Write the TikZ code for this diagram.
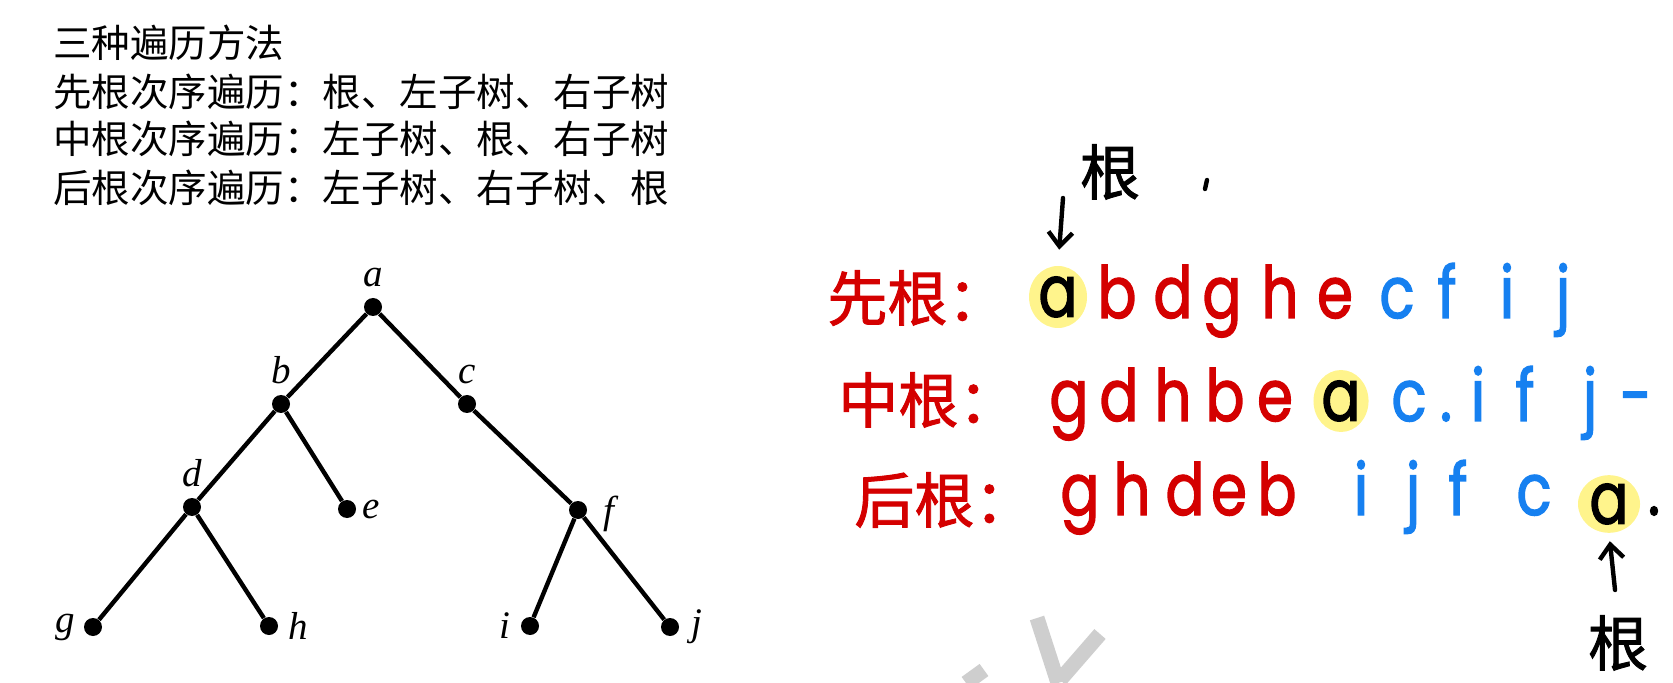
\documentclass[tikz,border=0pt]{standalone}
\usepackage{fontspec}
\setmainfont{Liberation Serif}
\newfontfamily\cjk{Noto Sans CJK SC}
\newfontfamily\cjkhand[FakeBold=1.5]{Noto Sans CJK SC}
\newfontfamily\handfont[FakeStretch=0.8, FakeBold=1.8]{Poppins}
\usepackage{xcolor}
\usetikzlibrary{arrows.meta,positioning,shapes.geometric}

\definecolor{inkred}{RGB}{212,0,0}
\definecolor{inkblue}{RGB}{22,128,240}
\definecolor{hiyellow}{RGB}{255,244,140}
\definecolor{wmgray}{RGB}{206,206,206}

\begin{document}
\begin{tikzpicture}[
    x=0.5pt, y=-0.5pt,
    every node/.style={inner sep=0pt},
    vertex/.style={circle, fill, minimum size=9pt},
    edge/.style={line width=2.2pt},
    lbl/.style={font=\fontsize{19.5}{22}\selectfont\itshape},
    heading/.style={anchor=west, font=\cjk\fontsize{19.25}{23}\selectfont},
    hand/.style={anchor=base, font=\handfont\fontsize{36}{40}\selectfont},
    handcjk/.style={anchor=west, font=\cjkhand\fontsize{30}{34}\selectfont},
    hilite/.style={ellipse, fill=hiyellow, font=\handfont\fontsize{36}{40}\selectfont},
    pointer/.style={line width=2.2pt, line cap=round, -{Straight Barb[length=7pt,width=12pt]}},
    tickmark/.style={line width=2.2pt, line cap=round},
    watermark/.style={line width=7.5pt, draw=wmgray}
]
\useasboundingbox (0,0) rectangle (1673,683);

% watermark fragment
\draw[watermark] (1037,618) -- (1058,683);
\draw[watermark] (1060,680) -- (1100,634);
\draw[watermark] (966,683) -- (984,670);

% Left: the three orders
\node[heading] (title) at (53,43) {三种遍历方法};
\node[heading] (pre) at (53,92) {先根次序遍历：根、左子树、右子树};
\node[heading] (in) at (53,139) {中根次序遍历：左子树、根、右子树};
\node[heading] (post) at (53,188) {后根次序遍历：左子树、右子树、根};

% Left: the tree
\node[vertex, label={[lbl, label distance=5pt]above:a}] (a) at (373,307) {};
\node[vertex, label={[lbl, label distance=5pt]above:b}] (b) at (281,404) {};
\node[vertex, label={[lbl, label distance=5pt]above:c}] (c) at (467,404) {};
\node[vertex, label={[lbl, label distance=5pt]above:d}] (d) at (192,507) {};
\node[vertex, label={[lbl, label distance=3pt]right:e}] (e) at (347,509) {};
\node[vertex, label={[lbl, label distance=8pt, yshift=-2pt]right:f}] (f) at (578,510) {};
\node[vertex, label={[lbl, label distance=4pt]left:g}] (g) at (93,627) {};
\node[vertex, label={[lbl, label distance=5pt]right:h}] (h) at (269,626) {};
\node[vertex, label={[lbl, label distance=5pt]left:i}] (i) at (530,626) {};
\node[vertex, label={[lbl, label distance=6pt]right:j}] (j) at (670,627) {};

\draw[edge] (a) -- (b);
\draw[edge] (a) -- (c);
\draw[edge] (b) -- (d);
\draw[edge] (b) -- (e);
\draw[edge] (c) -- (f);
\draw[edge] (d) -- (g);
\draw[edge] (d) -- (h);
\draw[edge] (f) -- (i);
\draw[edge] (f) -- (j);

% Right: preorder  a b d g h e c f i j
\node[handcjk, inkred] (preTag) at (827,298) {先根：};
\node[hilite, minimum width=29pt, minimum height=31pt] (preRoot) at (1058,297) {a};
\node[hand, inkred] (preB) at (1117,318) {b};
\node[hand, inkred] (preD) at (1173,318) {d};
\node[hand, inkred] (preG) at (1222,318) {g};
\node[hand, inkred] (preH) at (1280,318) {h};
\node[hand, inkred] (preE) at (1335,318) {e};
\node[hand, inkblue] (preC) at (1397,318) {c};
\node[hand, inkblue] (preF) at (1447,318) {f};
\node[hand, inkblue] (preI) at (1507,318) {i};
\node[hand, inkblue] (preJ) at (1563,318) {j};

% Right: inorder  g d h b e a c i f j
\node[handcjk, inkred] (inTag) at (838,400) {中根：};
\node[hand, inkred] (inG) at (1069,421) {g};
\node[hand, inkred] (inD) at (1119,421) {d};
\node[hand, inkred] (inH) at (1173,421) {h};
\node[hand, inkred] (inB) at (1225,421) {b};
\node[hand, inkred] (inE) at (1275,421) {e};
\node[hilite, minimum width=27pt, minimum height=31pt] (inRoot) at (1341,401) {a};
\node[hand, inkblue] (inC) at (1409,421) {c};
\node[hand, inkblue] (inDot) at (1446,421) {.};
\node[hand, inkblue] (inI) at (1478,421) {i};
\node[hand, inkblue] (inF) at (1525,421) {f};
\node[hand, inkblue] (inJ) at (1590,421) {j};
\node[hand, inkblue] (inDash) at (1636,421) {-};

% Right: postorder  g h d e b i j f c a
\node[handcjk, inkred] (postTag) at (854,500) {后根：};
\node[hand, inkred] (postG) at (1080,515) {g};
\node[hand, inkred] (postH) at (1132,515) {h};
\node[hand, inkred] (postD) at (1185,515) {d};
\node[hand, inkred] (postE) at (1229,515) {e};
\node[hand, inkred] (postB) at (1277,515) {b};
\node[hand, inkblue] (postI) at (1361,515) {i};
\node[hand, inkblue] (postJ) at (1413,515) {j};
\node[hand, inkblue] (postF) at (1458,515) {f};
\node[hand, inkblue] (postC) at (1534,515) {c};
\node[hilite, minimum width=31pt, minimum height=26pt] (postRoot) at (1609,504) {a};
\node[hand] (postDot) at (1654,515) {.};

% root markers
\node[font=\cjkhand\fontsize{30}{34}\selectfont] (tagTop) at (1110,172) {根};
\draw[tickmark] (1207,180) -- (1205,189);
\coordinate (tailTop) at (1063,198);
\draw[pointer, shorten >=8pt] (tailTop) -- (preRoot.north);

\node[font=\cjkhand\fontsize{30}{34}\selectfont] (tagBottom) at (1618,643) {根};
\coordinate (tailBottom) at (1615,590);
\draw[pointer, shorten >=4pt] (tailBottom) -- (postRoot.south);

\end{tikzpicture}
\end{document}
